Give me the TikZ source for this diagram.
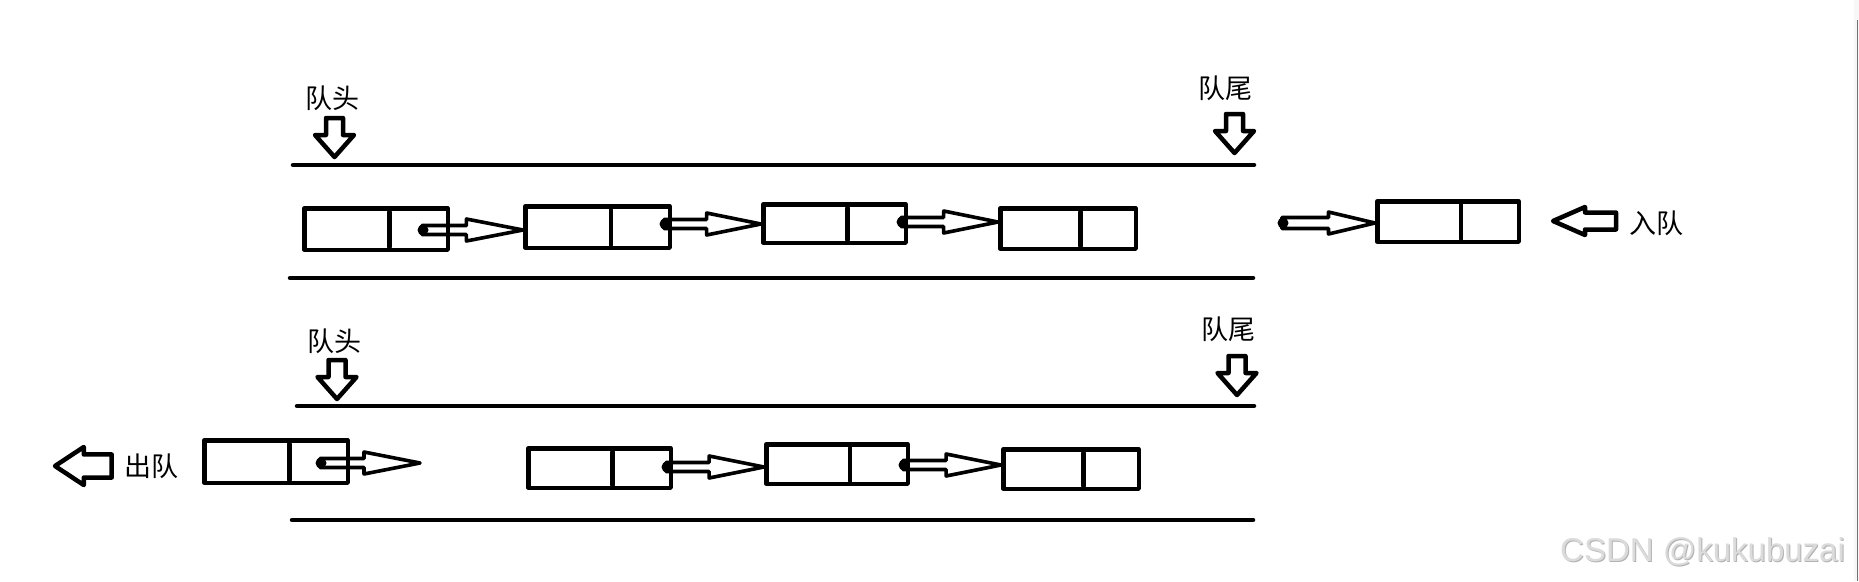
\documentclass[tikz,border=0pt]{standalone}
\usepackage{fontspec}
\newfontfamily\cjk{Noto Sans CJK SC}
\newfontfamily\wmfont{Liberation Sans}
\usetikzlibrary{calc}
% #1 shaft half height, #2 head start fraction, #3 start coord, #4 tip coord
\newcommand\linkarr[4]{%
  \draw[lk] let \p1=(#3), \p2=(#4), \p3=($(#3)!#2!(#4)$) in
    (\x1,\y1+#1pt) -- (\x3,\y1+#1pt) -- (\x3,\y1+11pt) -- (\x2,\y1)
    -- (\x3,\y1-11pt) -- (\x3,\y1-#1pt) -- (\x1,\y1-#1pt) -- cycle;
  \fill let \p1=(#3) in (\x1+1pt,\y1) circle (5.5pt);}
\begin{document}
\begin{tikzpicture}[x=1pt,y=-1pt,line join=round,line cap=round,
  cell/.style={draw,line width=4.5pt,rectangle,inner sep=0pt},
  div/.style={line width=4.5pt},
  rail/.style={line width=4.5pt},
  lk/.style={line width=3.6pt},
  blk/.style={line width=4.5pt},
  lbl/.style={font=\cjk\fontsize{27}{31}\selectfont,inner sep=0pt},
  downarr/.pic={\draw[blk] (-8.5,0) -- (8.5,0) -- (8.5,17) -- (19.5,17) -- (0,39) -- (-19.5,17) -- (-8.5,17) -- cycle;},
  leftarr/.pic={\draw[blk] (0,0) -- (32,-14) -- (32,-8.5) -- (63,-8.5) -- (63,8.5) -- (32,8.5) -- (32,14) -- cycle;}
]
\useasboundingbox (0,0) rectangle (1859,581);
\fill[white] (0,0) rectangle (1859,581);
% right edge
\fill[black!3] (1854,0) rectangle (1859,581);
\draw[black!55,line width=1pt,line cap=butt] (1857.5,20) -- (1857.5,581);

% ================= top queue =================
\draw[rail] (293,165) -- (1254,165);
\draw[rail] (290,278) -- (1253,278);

\node[lbl] (h1) at (332,98) {队头};
\node[lbl] (e1) at (1225,88) {队尾};
\pic at (334.5,118) {downarr};
\pic at (1234.5,114) {downarr};

\node[cell,minimum width=143.5,minimum height=41.5] (t1) at (376,229) {};
\node[cell,minimum width=144.5,minimum height=41.5] (t2) at (597.5,227) {};
\node[cell,minimum width=142.5,minimum height=38.5] (t3) at (834.5,223.5) {};
\node[cell,minimum width=135.5,minimum height=40.5] (t4) at (1068,228.5) {};
\node[cell,minimum width=141.5,minimum height=40.5] (nw) at (1448,221.5) {};

\coordinate (s1) at ($(t1.east)+(-28,1)$);
\coordinate (s2) at ($(t2.east)+(-8,-3)$);
\coordinate (s3) at ($(t3.east)+(-7,-1.5)$);
\coordinate (enq) at (1282,223);
\linkarr{4.5}{0.44}{s1}{t2.west}
\linkarr{4.5}{0.44}{s2}{t3.west}
\linkarr{4.5}{0.44}{s3}{t4.west}
\linkarr{5.5}{0.5}{enq}{nw.west}

\pic at (1553,221) {leftarr};
\node[lbl] (in) at (1656,223) {入队};

% ================= bottom queue =================
\draw[rail] (297,406) -- (1254,406);
\draw[rail] (292,520) -- (1253,520);

\node[lbl] (h2) at (334,341) {队头};
\node[lbl] (e2) at (1228,329) {队尾};
\pic at (337,360) {downarr};
\pic at (1237,356) {downarr};

\node[cell,minimum width=143.5,minimum height=42.5] (d) at (276,461.5) {};
\node[cell,minimum width=142.5,minimum height=39.5] (b2) at (599.5,468) {};
\node[cell,minimum width=141.5,minimum height=39.5] (b3) at (837,464) {};
\node[cell,minimum width=135.5,minimum height=39.5] (b4) at (1071,469) {};

\coordinate (sd) at ($(d.east)+(-30,1.5)$);
\coordinate (dq) at (420,463);
\coordinate (sb2) at ($(b2.east)+(-7,-1)$);
\coordinate (sb3) at ($(b3.east)+(-7,1)$);
\linkarr{4.5}{0.44}{sd}{dq}
\linkarr{4.5}{0.44}{sb2}{b3.west}
\linkarr{4.5}{0.44}{sb3}{b4.west}

\pic[xscale=0.9,yscale=1.36] at (55,466) {leftarr};
\node[lbl] (out) at (151,466) {出队};

% dividers
\foreach \n in {t1,t2,t3,t4,nw,d,b2,b3,b4}
  \draw[div] ($(\n.north west)!0.59!(\n.north east)+(0,6)$) -- ($(\n.south west)!0.59!(\n.south east)+(0,-5)$);

% watermark
\node[font=\wmfont\fontsize{33}{38}\selectfont,text=black!30,anchor=base west,inner sep=0pt] (wm0) at (1561,562) {CSDN @kukubuzai};
\node[font=\wmfont\fontsize{33}{38}\selectfont,text=black!14,anchor=base west,inner sep=0pt] (wm) at (1560,561) {CSDN @kukubuzai};
\end{tikzpicture}
\end{document}
